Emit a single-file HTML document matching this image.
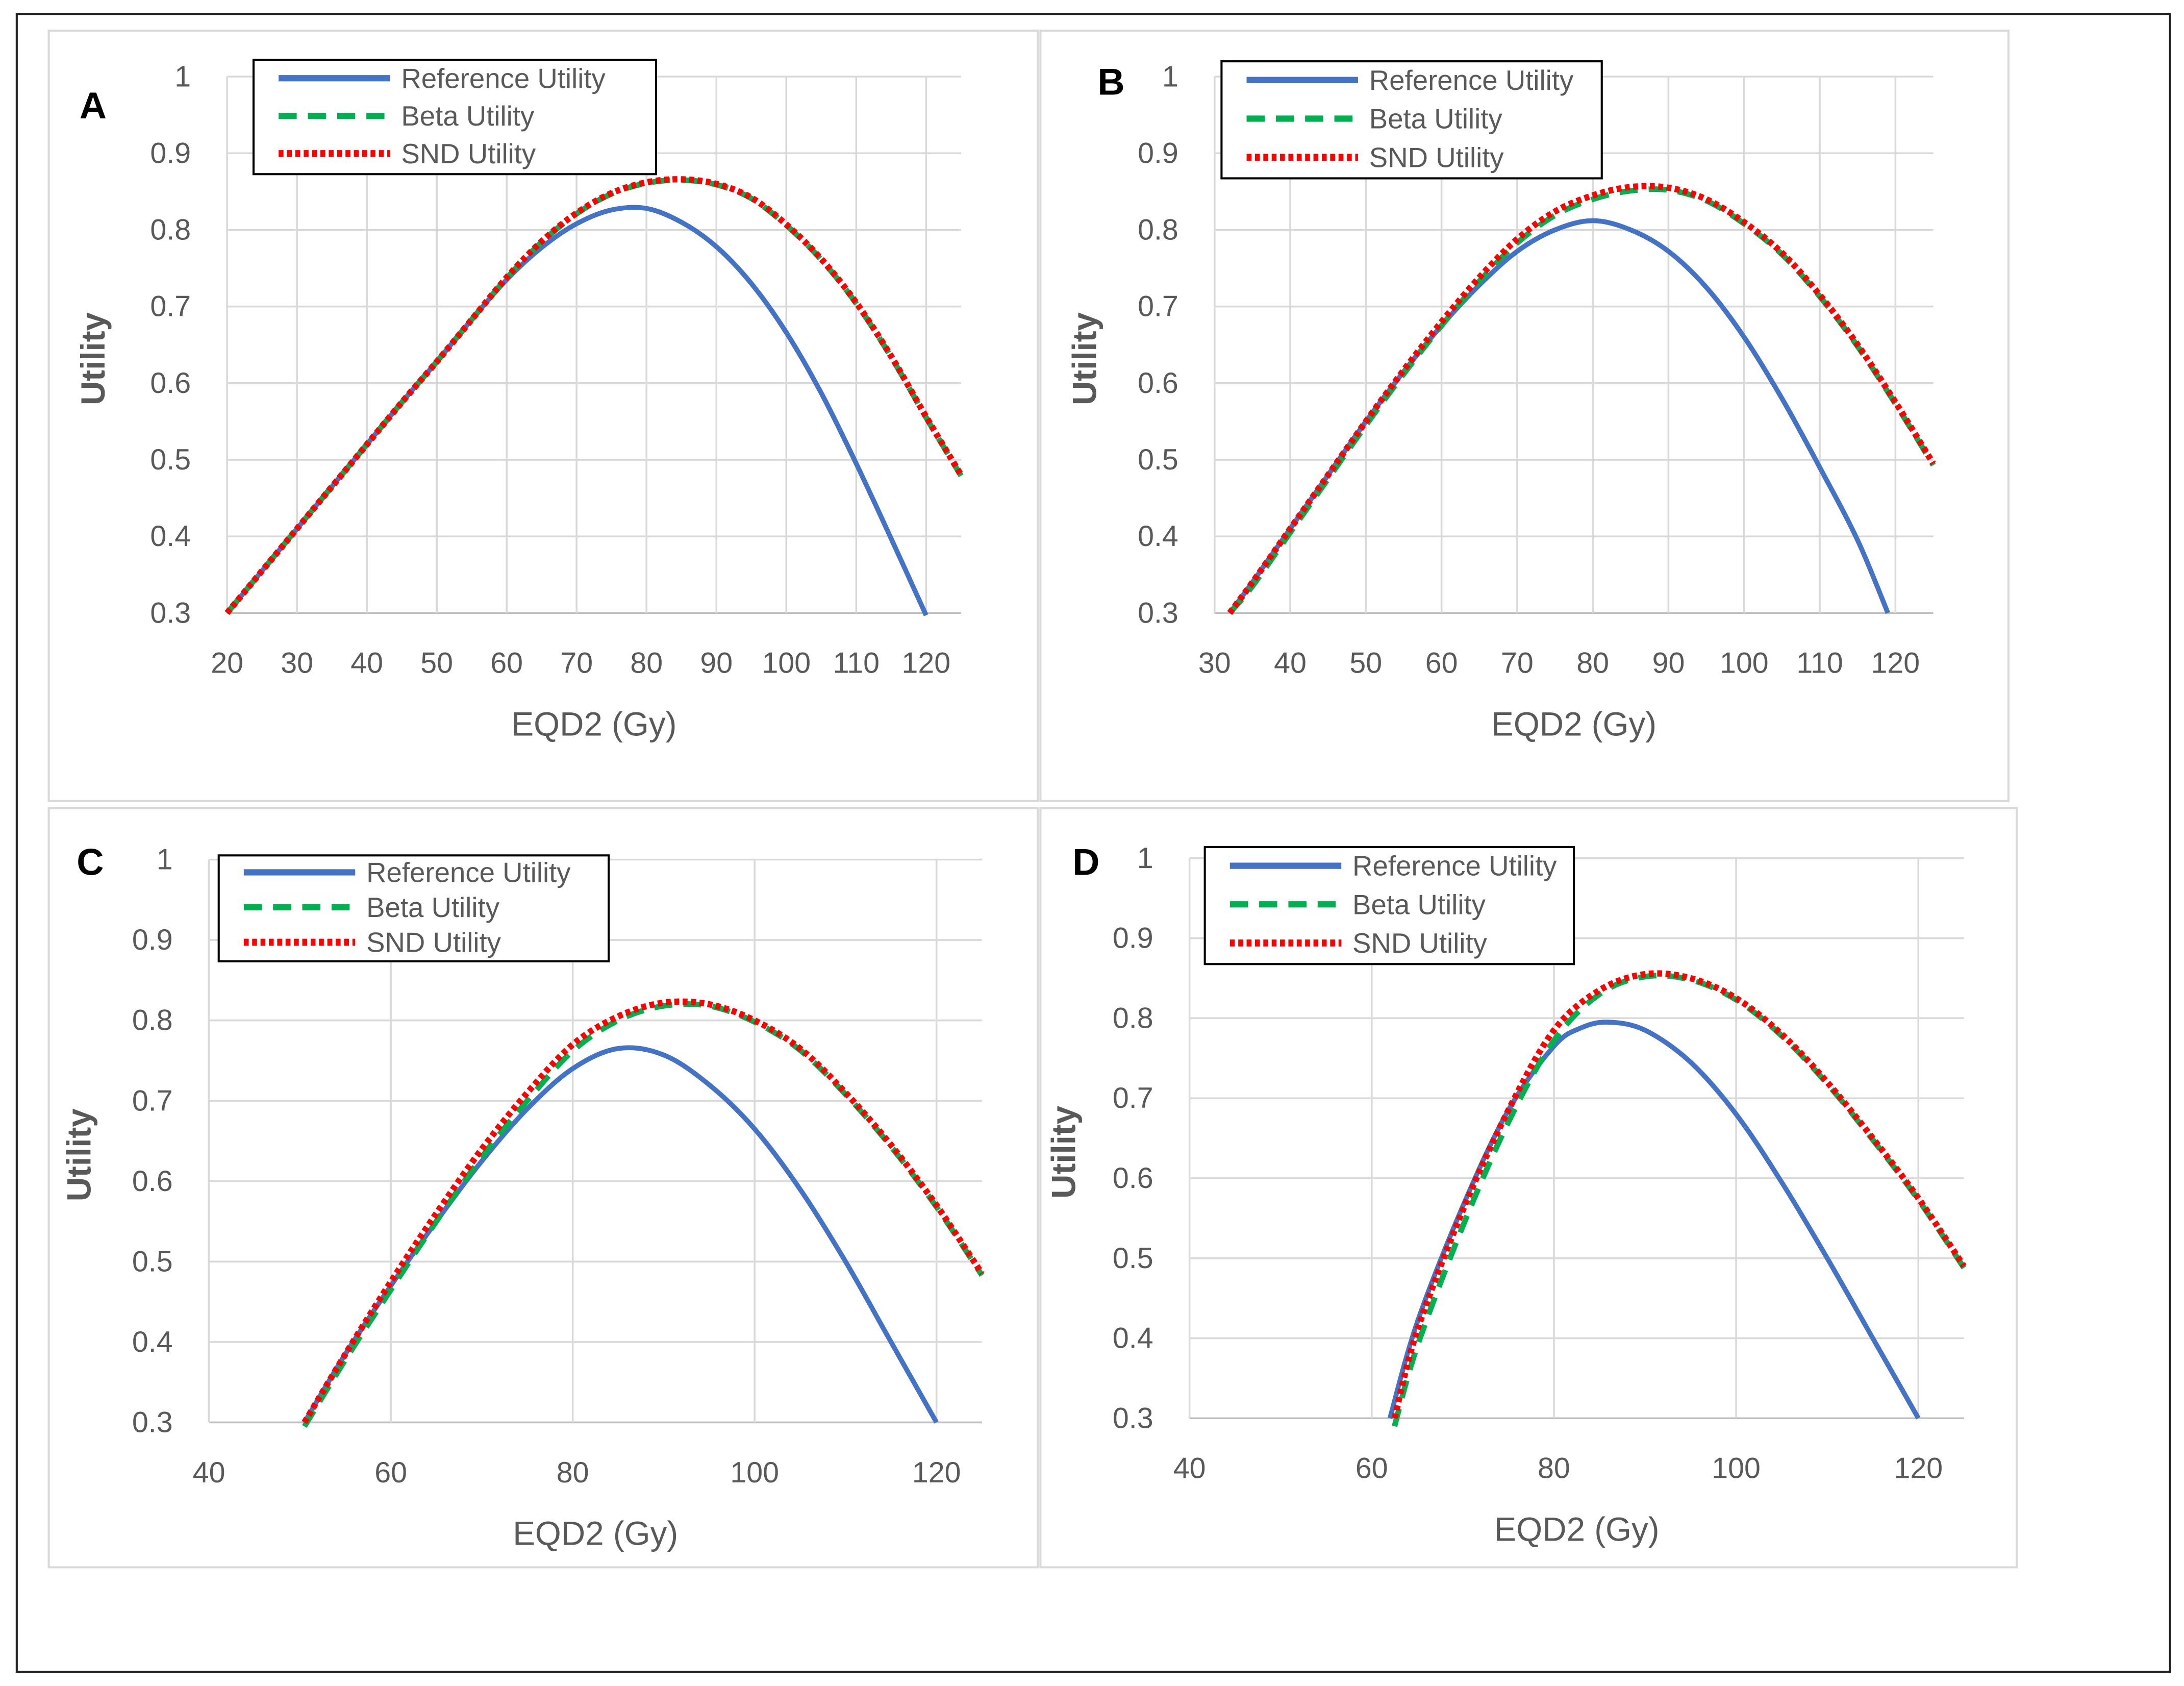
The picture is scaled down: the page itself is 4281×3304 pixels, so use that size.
<!DOCTYPE html>
<html><head><meta charset="utf-8"><style>
html,body{margin:0;padding:0;background:#fff}
svg{display:block}
text{font-family:"Liberation Sans",sans-serif;fill:#595959}
</style></head><body>
<svg id="fig" xmlns="http://www.w3.org/2000/svg" width="4281" height="3304" viewBox="0 0 1568 1210.2">
<rect x="0" y="0" width="1568" height="1210.2" fill="#fff"/>
<rect x="12" y="10" width="1546" height="1190" fill="none" stroke="#222" stroke-width="1.5"/>
</svg>
<script>
// ---- Data (EQD2 Gy, Utility) ----
const xRefA=[20,25,30,35,40,45,50,55,60,65,70,75,80,85,90,95,100,105,110,115,120];
const yRefA=[.30,.355,.41,.465,.52,.575,.628,.683,.735,.777,.808,.826,.828,.81,.778,.73,.666,.587,.495,.397,.297];
const xSndA=[20,25,30,35,40,45,50,55,60,65,70,75,80,85,90,95,100,105,110,115,120,125];
const ySndA=[.30,.355,.41,.465,.52,.575,.628,.683,.738,.785,.822,.848,.862,.866,.86,.842,.807,.762,.705,.635,.556,.48];
const yBetaA=[.30,.355,.41,.465,.52,.575,.628,.683,.737,.784,.821,.847,.861,.865,.859,.841,.806,.761,.704,.634,.555,.479];

const xRefB=[32,35,40,45,50,55,60,65,70,75,80,85,90,95,100,105,110,115,119];
const yRefB=[.30,.34,.41,.48,.55,.615,.675,.728,.772,.80,.812,.80,.772,.725,.66,.58,.49,.395,.30];
const xSndB=[32,35,40,45,50,55,60,65,70,75,80,85,90,95,100,105,110,115,120,125];
const ySndB=[.30,.34,.41,.48,.55,.617,.68,.738,.788,.824,.845,.856,.855,.84,.81,.77,.715,.65,.575,.495];
const yBetaB=[.30,.335,.405,.475,.545,.612,.675,.733,.783,.819,.84,.851,.852,.838,.808,.768,.713,.648,.573,.493];

const xRefC=[50.5,55,60,65,70,75,80,85,90,95,100,105,110,115,120];
const yRefC=[.30,.385,.47,.55,.625,.69,.74,.765,.757,.72,.665,.59,.50,.40,.30];
const xSndC=[50.5,55,60,65,70,75,80,85,90,95,100,105,110,115,120,125];
const ySndC=[.30,.385,.475,.56,.64,.71,.77,.805,.822,.82,.80,.765,.71,.645,.57,.485];
const yBetaC=[.295,.378,.465,.55,.63,.70,.762,.80,.818,.818,.798,.763,.708,.643,.568,.483];

const xRefD=[62,65,70,75,80,83,86,90,95,100,105,110,115,120];
const yRefD=[.30,.42,.565,.685,.765,.788,.795,.785,.745,.68,.595,.50,.40,.30];
const xSndD=[62.5,65,70,75,80,85,90,95,100,105,110,115,120,125];
const ySndD=[.30,.41,.56,.685,.785,.835,.855,.85,.825,.78,.72,.65,.575,.49];
const yBetaD=[.29,.39,.54,.67,.772,.83,.852,.848,.823,.778,.718,.648,.573,.488];

const yTicks=[0.3,0.4,0.5,0.6,0.7,0.8,0.9,1];
const xTicksA=[20,30,40,50,60,70,80,90,100,110,120];
const xTicksB=[30,40,50,60,70,80,90,100,110,120];
const xTicksCD=[40,60,80,100,120];

const NS="http://www.w3.org/2000/svg";
const svg=document.getElementById('fig');
function mk(tag,attrs,parent){const e=document.createElementNS(NS,tag);for(const k in attrs)e.setAttribute(k,attrs[k]);(parent||svg).appendChild(e);return e;}
function smooth(pts){let d="M"+pts[0][0]+","+pts[0][1];for(let i=0;i<pts.length-1;i++){const p0=pts[Math.max(0,i-1)],p1=pts[i],p2=pts[i+1],p3=pts[Math.min(pts.length-1,i+2)];const c1=[p1[0]+(p2[0]-p0[0])/6,p1[1]+(p2[1]-p0[1])/6],c2=[p2[0]-(p3[0]-p1[0])/6,p2[1]-(p3[1]-p1[1])/6];d+=" C"+c1[0]+","+c1[1]+" "+c2[0]+","+c2[1]+" "+p2[0]+","+p2[1];}return d;}

const panels=[
 {id:'a',letter:'A',frame:[35,22,710,553],L:163,R:690,T:55,B:440,xmin:20,xmax:125,xt:xTicksA,lx:[57,85],ux:75,leg:[182,43,289,82],
  ref:[xRefA,yRefA],snd:[xSndA,ySndA],beta:[xSndA,yBetaA]},
 {id:'b',letter:'B',frame:[747,22,695,553],L:872,R:1388,T:55,B:440,xmin:30,xmax:125,xt:xTicksB,lx:[788,68],ux:787,leg:[877,44,273,84],
  ref:[xRefB,yRefB],snd:[xSndB,ySndB],beta:[xSndB,yBetaB]},
 {id:'c',letter:'C',frame:[35,580,710,545],L:150,R:705,T:617,B:1021,xmin:40,xmax:125,xt:xTicksCD,lx:[55,628],ux:65,leg:[157,614,280,76],
  ref:[xRefC,yRefC],snd:[xSndC,ySndC],beta:[xSndC,yBetaC]},
 {id:'d',letter:'D',frame:[747,580,701,545],L:854,R:1410,T:616,B:1018,xmin:40,xmax:125,xt:xTicksCD,lx:[770,628],ux:772,leg:[865,608,265,84],
  ref:[xRefD,yRefD],snd:[xSndD,ySndD],beta:[xSndD,yBetaD]}
];

panels.forEach(p=>{
 const g=mk('g',{});
 
 
 const xs=v=>p.L+(v-p.xmin)/(p.xmax-p.xmin)*(p.R-p.L);
 const ys=v=>p.B-(v-0.3)/0.7*(p.B-p.T);
 const fr=mk('rect',{x:p.frame[0],y:p.frame[1],width:p.frame[2],height:p.frame[3],fill:'none',stroke:'#d9d9d9','stroke-width':1.5},g);
 
 
 yTicks.forEach(t=>{
  const y=ys(t);
  const ln=mk('line',{x1:p.L,x2:p.R,y1:y,y2:y,stroke:t===0.3?'#bfbfbf':'#d9d9d9','stroke-width':1.3},g);
  
  
  const tx=mk('text',{x:p.L-26,y:y+7,'font-size':21,'text-anchor':'end'},g);
  tx.textContent=String(t);
  
  
 });
 p.xt.forEach(t=>{
  const x=xs(t);
  const ln=mk('line',{x1:x,x2:x,y1:p.T,y2:p.B,stroke:'#d9d9d9','stroke-width':1.3},g);
  
  
  const tx=mk('text',{x:x,y:p.B+43,'font-size':21,'text-anchor':'middle'},g);
  tx.textContent=String(t);
  
  
 });
 const xt=mk('text',{x:(p.L+p.R)/2,y:p.B+88,'font-size':24,'text-anchor':'middle'},g);
 xt.textContent='EQD2 (Gy)';
 
 
 const cy=(p.T+p.B)/2+10;
 const yt=mk('text',{x:p.ux,y:cy,'font-size':24,'font-weight':'bold','text-anchor':'middle',transform:'rotate(-90 '+p.ux+' '+cy+')'},g);
 yt.textContent='Utility';
 
 
 const lt=mk('text',{x:p.lx[0],y:p.lx[1],'font-size':27,'font-weight':'bold',style:'fill:#000'},g);
 lt.textContent=p.letter;
 
 
 const pts=(s)=>s[0].map((x,i)=>[xs(x),ys(s[1][i])]);
 const ref=mk('path',{d:smooth(pts(p.ref)),fill:'none',stroke:'#4472c4','stroke-width':3.5},g);
 
 
 const beta=mk('path',{d:smooth(pts(p.beta)),fill:'none',stroke:'#00b050','stroke-width':4,'stroke-dasharray':'13 8'},g);
 
 
 const snd=mk('path',{d:smooth(pts(p.snd)),fill:'none',stroke:'#ff0000','stroke-width':4.5,'stroke-dasharray':'3.5 2.5'},g);
 
 
 const [lx,ly,lw,lh]=p.leg;
 const lg=mk('g',{},g);
 
 
 mk('rect',{x:lx,y:ly,width:lw,height:lh,fill:'#fff',stroke:'#000','stroke-width':1.5},lg);
 const rows=[['Reference Utility','#4472c4',4.5,'none'],['Beta Utility','#00b050',4.5,'13 8'],['SND Utility','#ff0000',5,'3.5 2.5']];
 rows.forEach((r,i)=>{
  const yy=ly+lh*(0.16+0.33*i);
  const e=mk('g',{},lg);
  
  
  mk('line',{x1:lx+18,x2:lx+98,y1:yy,y2:yy,stroke:r[1],'stroke-width':r[2],'stroke-dasharray':r[3]},e);
  const t=mk('text',{x:lx+106,y:yy+7,'font-size':20},e);
  t.textContent=r[0];
 });
});
</script>
</body></html>
